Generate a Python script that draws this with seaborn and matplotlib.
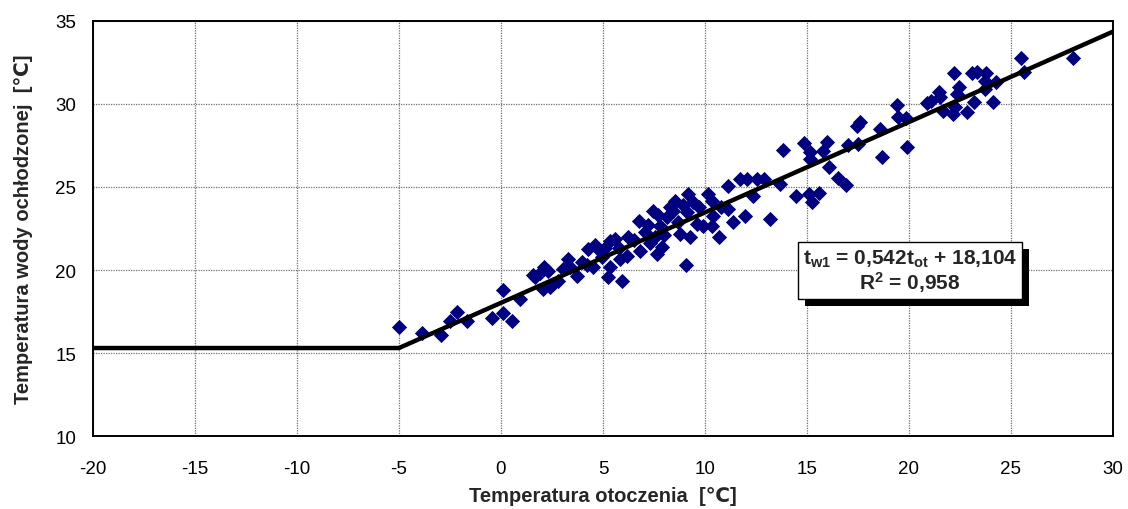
import numpy as np
import pandas as pd
import seaborn as sns
import matplotlib
matplotlib.use('Agg')
import matplotlib.pyplot as plt
import matplotlib.patheffects as pe

# ambient temperature vs cooled water temperature
t_ot = [-5.0, -3.86, -2.94, -2.5, -2.17, -1.65, -0.46, 0.08, 0.11, 0.52,
        0.93, 1.67, 1.55, 2.12, 2.32, 2.04, 2.4, 2.55, 2.8, 3.3,
        3.71, 3.05, 3.96, 4.28, 4.61, 4.53, 4.94, 5.26, 5.34, 5.34,
        5.59, 5.92, 5.83, 6.16, 6.24, 6.81, 6.76, 7.06, 7.55, 7.63,
        7.46, 7.79, 7.87, 8.12, 8.53, 8.45, 8.77, 8.69, 9.18, 9.1,
        9.43, 9.26, 9.07, 9.59, 9.92, 10.16, 10.33, 10.41, 10.33, 10.7,
        11.14, 11.14, 11.39, 11.72, 12.04, 11.96, 12.37, 12.53, 13.84, 13.68,
        13.19, 14.46, 14.87, 15.15, 15.15, 15.1, 15.23, 15.59, 15.8, 16.0,
        16.1, 16.5, 16.91, 17.0, 17.52, 17.47, 17.6, 18.58, 18.69, 19.4,
        19.45, 19.85, 19.89, 20.87, 21.1, 21.49, 21.5, 21.68, 22.2, 22.46,
        22.37, 22.25, 22.17, 22.83, 23.19, 23.07, 23.35, 23.76, 23.73, 23.73,
        24.26, 24.13, 25.49, 25.64, 28.05,
        5.1, 5.8, 6.5, 7.2, 7.7, 8.3, 8.9, 7.3, 8.0, 4.2,
        4.8, 1.9, 3.4, 9.7, 10.8, 12.9]
t_w1 = [16.57, 16.2, 16.1, 16.95, 17.45, 16.95, 17.1, 17.4, 18.8, 16.9,
        18.25, 19.6, 19.7, 20.16, 19.96, 18.86, 18.96, 19.16, 19.36, 20.66,
        19.66, 20.06, 20.46, 21.27, 21.5, 20.16, 20.76, 19.56, 20.16, 21.77,
        21.87, 19.36, 20.66, 20.86, 21.97, 21.16, 22.97, 22.27, 21.97, 20.96,
        23.57, 22.67, 21.37, 23.17, 24.17, 23.57, 22.17, 22.87, 24.58, 23.47,
        24.08, 21.97, 20.3, 22.77, 22.67, 24.58, 24.17, 23.27, 22.67, 21.97,
        25.08, 23.67, 22.87, 25.48, 25.48, 23.27, 24.48, 25.48, 27.25, 25.18,
        23.07, 24.44, 27.63, 27.09, 26.69, 24.58, 24.11, 24.64, 27.19, 27.69,
        26.19, 25.52, 25.12, 27.53, 27.59, 28.7, 28.9, 28.49, 26.79, 29.94,
        29.2, 29.14, 27.39, 30.04, 30.2, 30.7, 30.4, 29.6, 31.85, 31.0,
        30.6, 29.8, 29.4, 29.5, 30.14, 31.85, 31.9, 31.85, 30.9, 31.4,
        31.3, 30.14, 32.8, 31.9, 32.8,
        21.3, 21.3, 21.8, 22.7, 23.3, 23.8, 23.9, 21.6, 22.1, 20.3,
        21.2, 19.8, 20.2, 23.8, 23.8, 25.5]

# fitted characteristic: constant below -5 C, regression line above
fit_x = [-20, -5, 30]
fit_y = [15.3, 15.3, 34.36]

eq_text = (r'$\mathbf{t_{w1}}$ = 0,542t$_{\mathbf{ot}}$ + 18,104' + '\n'
           + r'R$^{\mathbf{2}}$ = 0,958')

df = pd.DataFrame({'t_ot': t_ot, 't_w1': t_w1})
df_fit = pd.DataFrame({'x': fit_x, 'y': fit_y})

sns.set_style('white')
plt.rcParams['font.family'] = ['Liberation Sans', 'DejaVu Sans']
plt.rcParams['axes.unicode_minus'] = False
plt.rcParams['mathtext.fontset'] = 'custom'
plt.rcParams['mathtext.rm'] = 'Liberation Sans'
plt.rcParams['mathtext.bf'] = 'Liberation Sans:bold'
plt.rcParams['mathtext.it'] = 'Liberation Sans:italic'

fig = plt.figure(figsize=(11.28, 5.10), dpi=100)
ax = fig.add_axes([0.0824, 0.1431, 0.9043, 0.8138])

sns.scatterplot(data=df, x='t_ot', y='t_w1', marker='D', color='#000080',
                s=60, edgecolor='#000080', linewidth=0, ax=ax, zorder=3)
sns.lineplot(data=df_fit, x='x', y='y', color='black', linewidth=3.2,
             ax=ax, zorder=4, sort=False)

ax.set_xlim(-20, 30)
ax.set_ylim(10, 35)
ax.set_xticks(np.arange(-20, 31, 5))
ax.set_yticks(np.arange(10, 36, 5))
ax.grid(True, color='#707070', linestyle=(0, (1, 1)), linewidth=0.9)
for s in ax.spines.values():
    s.set_color('black')
    s.set_linewidth(1.4)
ax.tick_params(length=0, labelsize=13.5, colors='black')
ax.tick_params(axis='x', pad=17)
ax.tick_params(axis='y', pad=12)

ax.set_xlabel('Temperatura otoczenia  [℃]', fontsize=14.5, fontweight='bold', labelpad=7)
ax.set_ylabel('Temperatura wody ochłodzonej  [℃]', fontsize=14.5, fontweight='bold', labelpad=16)

t = ax.text(20.05, 19.95, eq_text, fontsize=15, fontweight='bold', ha='center', va='center',
            multialignment='center', zorder=6, linespacing=1.0,
            bbox=dict(boxstyle='square,pad=0.25', fc='white', ec='black', lw=1.0))
t.get_bbox_patch().set_path_effects([
    pe.SimplePatchShadow(offset=(5, -5), shadow_rgbFace='black', alpha=1.0),
    pe.Normal()])

fig.savefig('out.png', dpi=100)
